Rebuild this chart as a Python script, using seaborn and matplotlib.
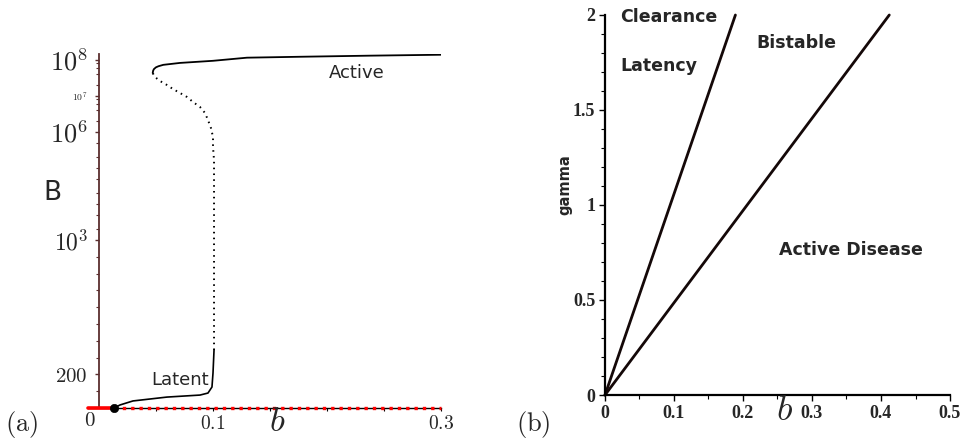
import numpy as np
import pandas as pd
import matplotlib
matplotlib.use("Agg")
import matplotlib.pyplot as plt
import seaborn as sns

# ---------------- data ----------------
# panel (a): bifurcation diagram, B versus b
latent_b = [0.0132, 0.0184, 0.0298, 0.0596, 0.0886, 0.0956, 0.0991, 0.1, 0.1009]
latent_B = [0, 18, 42, 65, 77, 89, 125, 208, 345]

unstable_b = [0.1009, 0.1009, 0.1009, 0.1009, 0.1009, 0.1009, 0.1, 0.1, 0.0982, 0.0956,
              0.093, 0.0886, 0.0825, 0.0772, 0.0711, 0.0649, 0.0596, 0.0535, 0.0491, 0.0471]
unstable_B = [345, 643, 1000, 12900, 38300, 1.67e5, 3.83e5, 7.26e5, 1.29e6, 2.15e6,
              3.37e6, 4.95e6, 6.81e6, 9.38e6, 1.21e7, 1.56e7, 2.02e7, 2.61e7, 3.37e7, 4.35e7]

active_b = [0.0471, 0.04754, 0.04825, 0.05, 0.0522, 0.0564, 0.0711, 0.1, 0.1298, 0.1763,
            0.2377, 0.3]
active_B = [4.35e7, 5.11e7, 5.62e7, 6.27e7, 6.72e7, 7.34e7, 8.3e7, 9.5e7, 1.16e8, 1.23e8,
            1.32e8, 1.40e8]

zero_stable_b = [-0.01, 0.0132]
zero_unstable_b = [0.0132, 0.3]
fold_point_b = [0.0132]
fold_point_B = [0]

a_yticks = [200, 1e3, 1e6, 1e7, 1e8]
a_yticklabels = [r"$200$", r"$10^{3}$", r"$10^{6}$", r"$10^{7}$", r"$10^{8}$"]
a_xticks_labeled = [0.1, 0.3]
a_xticklabels = [r"$0.1$", r"$0.3$"]

# panel (b): two-parameter boundaries, gamma versus b
bound1_b = [0.0, 0.189]
bound1_gamma = [0.0, 2.0]
bound2_b = [0.0, 0.412]
bound2_gamma = [0.0, 2.0]

b_xticks = [0, 0.1, 0.2, 0.3, 0.4, 0.5]
b_xticklabels = ["0", "0.1", "0.2", "0.3", "0.4", "0.5"]
b_yticks = [0, 0.5, 1, 1.5, 2]
b_yticklabels = ["0", "0.5", "1", "1.5", "2"]

# ---------------- style ----------------
sns.set_style("ticks")
plt.rcParams["font.family"] = ["DejaVu Sans"]
plt.rcParams["mathtext.fontset"] = "cm"

fig = plt.figure(figsize=(9.62, 4.41), dpi=100)

W, H = 962.0, 441.0

# ---------- custom scale for panel (a): linear up to 1000, log above ----------
def fwd(B):
    B = np.asarray(B, dtype=float)
    Bc = np.maximum(B, 1000.0)
    return np.where(B <= 1000.0, B * 0.168, 168.0 + 36.0 * np.log10(Bc / 1000.0))

def inv(h):
    h = np.asarray(h, dtype=float)
    hc = np.clip(h, 168.0, 600.0)
    return np.where(h <= 168.0, h / 0.168, 1000.0 * 10 ** ((hc - 168.0) / 36.0))

axA = fig.add_axes([87.6 / W, (H - 408) / H, (441 - 87.6) / W, 354 / H])
axA.set_yscale("function", functions=(fwd, inv))

sns.lineplot(x=latent_b, y=latent_B, ax=axA, sort=False, estimator=None,
             color="black", lw=1.2)
sns.lineplot(x=unstable_b, y=unstable_B, ax=axA, sort=False, estimator=None,
             color="black", lw=1.4, linestyle=(0, (0.8, 2.2)))
sns.lineplot(x=active_b, y=active_B, ax=axA, sort=False, estimator=None,
             color="black", lw=1.3)
sns.lineplot(x=zero_stable_b, y=[0, 0], ax=axA, sort=False, estimator=None,
             color="#ff0000", lw=2.6, clip_on=False, zorder=5)
sns.lineplot(x=zero_unstable_b, y=[0, 0], ax=axA, sort=False, estimator=None,
             color="#ff0000", lw=2.4, linestyle=(0, (1, 1.5)), clip_on=False, zorder=5)
sns.scatterplot(x=fold_point_b, y=fold_point_B, ax=axA, color="black", s=36,
                edgecolor="black", zorder=6, clip_on=False)

axA.set_xlim(-0.01, 0.3)
axA.set_ylim(0, inv(354.0))
axA.spines["top"].set_visible(False)
axA.spines["right"].set_visible(False)
axA.spines["left"].set_position(("data", 0))
axA.spines["left"].set_color("#5a2e2e")
axA.spines["left"].set_linewidth(1.3)
axA.spines["bottom"].set_color("black")
axA.spines["bottom"].set_linewidth(1.0)

axA.set_yticks(a_yticks)
axA.set_yticklabels(a_yticklabels)
minor_y = [100, 300, 400, 500, 600, 700, 800, 900, 2e3, 5e3, 1e4, 2e4, 5e4, 1e5, 2e5, 5e5,
           2e6, 4e6, 6e6, 8e6, 2e7, 4e7, 6e7, 8e7]
axA.set_yticks(minor_y, minor=True)
axA.tick_params(axis="y", which="major", length=3, width=1.0, color="#5a2e2e", pad=5)
axA.tick_params(axis="y", which="minor", length=2.2, width=0.8, color="#5a2e2e")
sizes = [15, 17, 19, 7, 19]
for lbl, s in zip(axA.get_yticklabels(), sizes):
    lbl.set_fontsize(s)

axA.set_xticks(a_xticks_labeled)
axA.set_xticklabels(a_xticklabels, fontsize=14)
axA.set_xticks([0.05, 0.15, 0.2, 0.25], minor=True)
axA.tick_params(axis="x", which="both", length=2.5, width=0.8, color="black", pad=2)
axA.set_xlabel("")
axA.set_ylabel("")

# texts of panel (a)
fig.text(90 / W, 1 - 420 / H, r"$0$", fontsize=15, ha="center", va="center")
fig.text(277 / W, 1 - 421 / H, r"$b$", fontsize=25, ha="center", va="center")
fig.text(22 / W, 1 - 424 / H, r"$(\mathrm{a})$", fontsize=19, ha="center", va="center")
fig.text(52 / W, 1 - 193 / H, "B", fontsize=19, ha="center", va="center")
fig.text(357 / W, 1 - 73 / H, "Active", fontsize=13, ha="center", va="center")
fig.text(180 / W, 1 - 380 / H, "Latent", fontsize=13, ha="center", va="center")

# ---------------- panel (b) ----------------
axB = fig.add_axes([605 / W, (H - 395) / H, 345 / W, 380 / H])
sns.lineplot(x=bound1_b, y=bound1_gamma, ax=axB, sort=False, estimator=None,
             color="#140808", lw=2.0, clip_on=False)
sns.lineplot(x=bound2_b, y=bound2_gamma, ax=axB, sort=False, estimator=None,
             color="#140808", lw=2.0, clip_on=False)
axB.set_xlim(0, 0.5)
axB.set_ylim(0, 2)
axB.spines["top"].set_visible(False)
axB.spines["right"].set_visible(False)
for sp in ("left", "bottom"):
    axB.spines[sp].set_color("black")
    axB.spines[sp].set_linewidth(1.6)
axB.set_xticks(b_xticks)
axB.set_xticklabels(b_xticklabels, family="Liberation Serif", fontweight="bold", fontsize=13)
axB.set_yticks(b_yticks)
axB.set_yticklabels(b_yticklabels, family="Liberation Serif", fontweight="bold", fontsize=13)
axB.set_xticks(np.arange(0.05, 0.5, 0.1), minor=True)
axB.set_yticks([v / 10 for v in range(1, 20) if v % 5 != 0], minor=True)
axB.tick_params(axis="both", which="major", length=4, width=1.0, color="black", pad=3)
axB.tick_params(axis="both", which="minor", length=3, width=0.8, color="black")
axB.set_xlabel("")
axB.set_ylabel("")

fig.text(565 / W, 1 - 185 / H, "gamma", fontsize=10.5, fontweight="bold",
         rotation=90, ha="center", va="center")
fig.text(620 / W, 1 - 17 / H, "Clearance", fontsize=12.5, fontweight="bold", ha="left", va="center")
fig.text(620 / W, 1 - 66 / H, "Latency", fontsize=12.5, fontweight="bold", ha="left", va="center")
fig.text(756 / W, 1 - 43 / H, "Bistable", fontsize=12.5, fontweight="bold", ha="left", va="center")
fig.text(779 / W, 1 - 250 / H, "Active Disease", fontsize=12.5, fontweight="bold", ha="left", va="center")
fig.text(785 / W, 1 - 410 / H, r"$b$", fontsize=26, ha="center", va="center")
fig.text(533 / W, 1 - 424 / H, r"$(\mathrm{b})$", fontsize=19, ha="center", va="center")

fig.savefig("out.png", dpi=100)
